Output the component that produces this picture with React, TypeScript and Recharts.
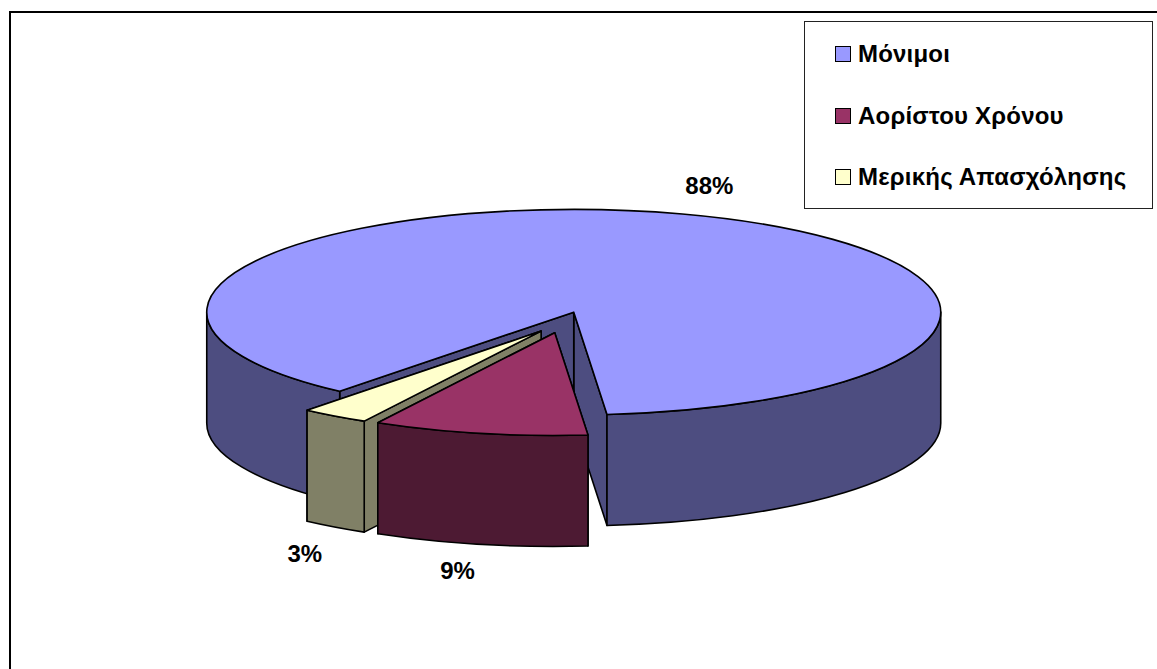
import React from "react";
import { PieChart, Pie, Legend } from "recharts";

const legendNames = ["Μόνιμοι", "Αορίστου Χρόνου", "Μερικής Απασχόλησης"];
const legendFills = ["#9999FF", "#993366", "#FFFFCC"];
const legendTops = [46, 108, 169];

// paint order: the 9% slice sits in front of the 3% slice
const names = ["Μόνιμοι", "Μερικής Απασχόλησης", "Αορίστου Χρόνου"];
const values = [87.55, 3.0, 9.45];
const fills = ["#9999FF", "#FFFFCC", "#993366"];
const sides = ["#4D4D80", "#808066", "#4D1A33"];

const data = names.map((name, i) => ({
  name,
  value: values[i],
  fill: fills[i],
  side: sides[i],
}));

const CX = 562.5;
const CY = 322.3;
const RX = 367;
const TILT = 0.28; // flattening of the circle
const DEPTH = 111;
const EXPLODE = 38;
const RAD = Math.PI / 180;

// distance of each percent label from the slice's outer edge
const labelGap: Record<string, number[]> = {
  "Μόνιμοι": [27, -28],
  "Μερικής Απασχόλησης": [-30, 26],
  "Αορίστου Χρόνου": [-22, 26],
};

function sliceCentre(mid: number) {
  return {
    x: CX + EXPLODE * Math.cos(mid * RAD),
    y: CY - EXPLODE * TILT * Math.sin(mid * RAD),
  };
}

function rim(c: { x: number; y: number }, angle: number, dy = 0) {
  return {
    x: c.x + RX * Math.cos(angle * RAD),
    y: c.y - RX * TILT * Math.sin(angle * RAD) + dy,
  };
}

function arcTo(p: { x: number; y: number }, large: boolean, sweep: number) {
  return `A${RX} ${RX * TILT} 0 ${large ? 1 : 0} ${sweep} ${p.x} ${p.y}`;
}

// parts of [start, end] on the front half of the ellipse
function frontParts(start: number, end: number) {
  const parts: number[][] = [];
  for (const k of [-360, 0, 360]) {
    const a = Math.max(start, 180 + k);
    const b = Math.min(end, 360 + k);
    if (b > a) parts.push([a, b]);
  }
  return parts;
}

function Slice3D(props: any) {
  const { startAngle, endAngle, fill } = props;
  const side = props.payload?.side ?? props.side;
  const mid = (startAngle + endAngle) / 2;
  const c = sliceCentre(mid);
  const line = { stroke: "#000", strokeWidth: 1.6, strokeLinejoin: "round" as const };

  const face = (angle: number) => {
    const p = rim(c, angle);
    return `M${c.x} ${c.y}L${p.x} ${p.y}L${p.x} ${p.y + DEPTH}L${c.x} ${c.y + DEPTH}Z`;
  };
  const s = rim(c, startAngle);
  const e = rim(c, endAngle);
  const top = `M${c.x} ${c.y}L${s.x} ${s.y}${arcTo(e, endAngle - startAngle > 180, 0)}Z`;

  return (
    <g>
      <path d={face(startAngle)} fill={side} {...line} />
      <path d={face(endAngle)} fill={side} {...line} />
      {frontParts(startAngle, endAngle).map(([a, b]) => {
        const p0 = rim(c, a);
        const p1 = rim(c, b);
        const q0 = rim(c, a, DEPTH);
        const q1 = rim(c, b, DEPTH);
        const d = `M${p0.x} ${p0.y}${arcTo(p1, false, 0)}L${q1.x} ${q1.y}${arcTo(q0, false, 1)}Z`;
        return <path key={a} d={d} fill={side} {...line} />;
      })}
      <path d={top} fill={fill} {...line} />
    </g>
  );
}

function renderLabel(props: any) {
  const { startAngle, endAngle, value, name } = props;
  const mid = (startAngle + endAngle) / 2;
  const front = Math.sin(mid * RAD) < 0;
  const p = rim(sliceCentre(mid), mid, front ? DEPTH : 0);
  const gap = labelGap[name ?? props.payload?.name] ?? [0, 0];
  return (
    <text
      x={p.x + gap[0]}
      y={p.y + gap[1]}
      textAnchor="middle"
      dominantBaseline="central"
      fontFamily="Liberation Sans"
      fontWeight="bold"
      fontSize={24}
      fill="#000"
    >
      {`${Math.round(value)}%`}
    </text>
  );
}

function renderLegend() {
  return (
    <div
      style={{
        position: "relative",
        width: 349,
        height: 188,
        background: "#fff",
        border: "1px solid #222",
        boxSizing: "border-box",
      }}
    >
      {legendNames.map((name, i) => (
        <div key={name}>
          <div
            style={{
              position: "absolute",
              left: 30,
              top: legendTops[i] - 22,
              width: 16,
              height: 16,
              boxSizing: "border-box",
              background: legendFills[i],
              border: "1.5px solid #000",
            }}
          />
          <div
            style={{
              position: "absolute",
              left: 53,
              top: legendTops[i] - 22 - 6,
              lineHeight: "28px",
              fontFamily: "Liberation Sans",
              fontWeight: "bold",
              fontSize: 24,
              letterSpacing: 0.2,
              whiteSpace: "nowrap",
              color: "#000",
            }}
          >
            {name}
          </div>
        </div>
      ))}
    </div>
  );
}

export default function App() {
  return (
    <div
      style={{
        position: "absolute",
        left: 0,
        top: 0,
        width: 1157,
        height: 669,
        overflow: "hidden",
        background: "#fff",
      }}
    >
      <div
        style={{
          position: "absolute",
          left: 9,
          top: 11,
          right: 0,
          bottom: 0,
          borderLeft: "2px solid #000",
          borderTop: "2px solid #000",
        }}
      />
      <PieChart width={1157} height={669} margin={{ top: 0, right: 0, bottom: 0, left: 0 }}>
        <Pie
          data={data}
          dataKey="value"
          nameKey="name"
          cx={CX}
          cy={CY}
          innerRadius={0}
          outerRadius={RX}
          startAngle={275.2}
          endAngle={635.2}
          shape={Slice3D}
          label={renderLabel}
          labelLine={false}
          isAnimationActive={false}
        />
        <Legend
          content={renderLegend}
          wrapperStyle={{ position: "absolute", left: 804, top: 21, width: 349, height: 188 }}
        />
      </PieChart>
    </div>
  );
}
